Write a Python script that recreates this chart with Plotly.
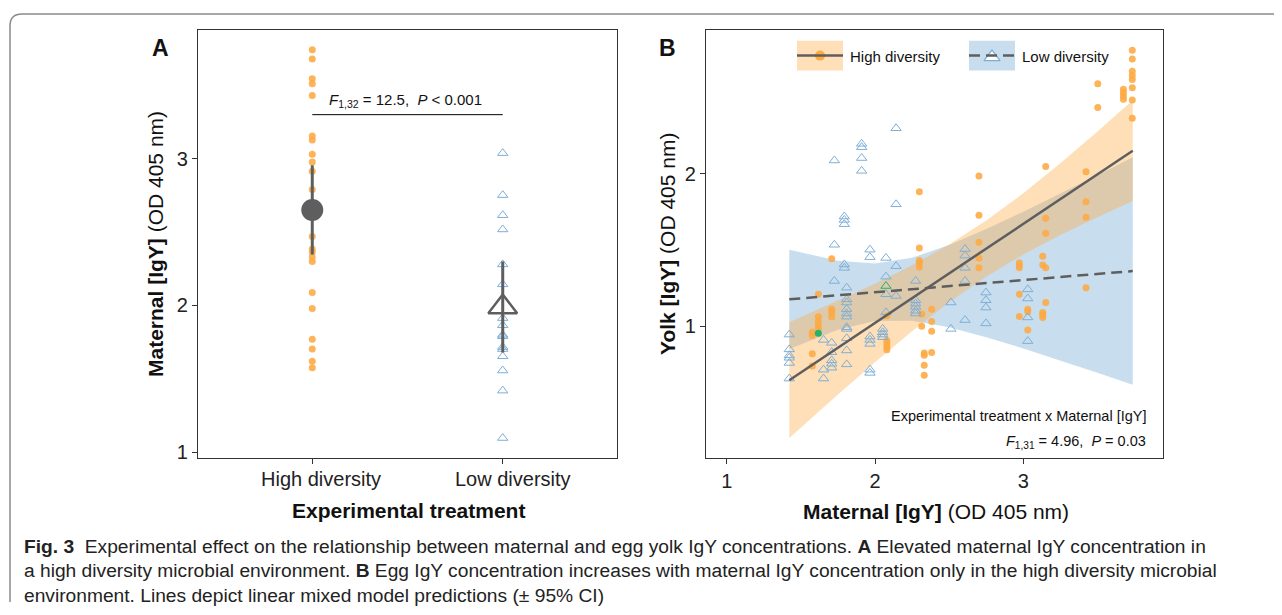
import plotly.graph_objects as go

W, H = 1282, 615
OFF = 8  # the page body adds an 8px margin on every side; the figure fills the rest


def px(x):
    return (x - OFF) / (W - 2 * OFF)


def py(y):
    return 1 - (y - OFF) / (H - 2 * OFF)


# ---------------- Panel A data ----------------
groups = ["High diversity", "Low diversity"]
group_pos = [1, 2]
hd_maternal = [3.743, 3.68, 3.545, 3.51, 3.43, 3.155, 3.128, 3.03, 2.978, 2.915, 2.79,
               2.47, 2.385, 2.365, 2.33, 2.30, 2.088, 1.98, 1.77, 1.703, 1.62, 1.576]
ld_maternal = [3.038, 2.752, 2.615, 2.518, 2.28, 2.144, 1.914, 1.865, 1.80, 1.79,
               1.717, 1.703, 1.654, 1.557, 1.42, 1.097]
mean_maternal = [2.65, 1.99]
ci_low_maternal = [2.347, 1.68]
ci_high_maternal = [2.955, 2.30]
a_yticks = [1, 2, 3]
bracket_y = 3.30

# ---------------- Panel B data ----------------
hd_col_x = [1.577, 1.618, 1.708, 2.08, 2.299, 2.315, 2.332, 2.382, 2.701, 2.973,
            3.03, 3.131, 3.151, 3.423, 3.502, 3.675, 3.735]
hd_col_yolk = [
    [0.961, 0.94, 0.82, 0.74],
    [1.21, 1.063, 1.032, 1.004, 0.982],
    [1.442, 1.112, 1.091, 1.063],
    [1.07, 0.907, 0.885, 0.864, 0.846],
    [1.881, 1.513, 1.431, 1.416, 1.388],
    [1.08, 1.0],
    [0.825, 0.81, 0.745, 0.68],
    [1.112, 1.032, 0.968, 0.829],
    [1.985, 1.727, 1.55, 1.448, 1.383],
    [1.416, 1.398, 1.383, 1.21, 1.065],
    [1.112, 1.095, 0.976],
    [1.459, 1.401, 1.091, 1.076, 1.058],
    [2.047, 1.708, 1.61, 1.383, 1.156],
    [2.013, 1.816, 1.714, 1.253],
    [2.589, 2.433],
    [2.552, 2.53, 2.508, 2.487],
    [2.807, 2.751, 2.671, 2.643, 2.617, 2.563, 2.482, 2.362],
]
ld_col_x = [1.422, 1.653, 1.708, 1.726, 1.793, 1.809, 1.91, 1.966, 2.052, 2.074,
            2.142, 2.274, 2.512, 2.607, 2.748, 3.03]
ld_col_yolk = [
    [0.946, 0.849, 0.81, 0.794, 0.76, 0.658],
    [0.911, 0.716, 0.658],
    [0.892, 0.831, 0.777, 0.755, 0.729],
    [2.086, 1.534, 1.297],
    [1.719, 1.697, 1.669, 1.405, 1.383],
    [1.253, 1.177, 1.156, 1.112, 1.084, 1.063, 0.994, 0.983, 0.922, 0.842, 0.751],
    [2.195, 2.173, 2.102, 2.018],
    [1.502, 1.453, 0.933, 0.911, 0.885, 0.716, 0.695],
    [0.983, 0.961, 0.946, 0.929],
    [1.448, 1.325, 1.21, 1.091],
    [2.297, 1.799, 1.394, 1.199],
    [1.297, 1.171, 1.149, 1.128, 1.102, 1.084],
    [1.156, 0.983],
    [1.506, 1.463, 1.383, 1.297, 1.041],
    [1.221, 1.171, 1.123, 1.019],
    [1.242, 1.182, 1.058, 0.903],
]
# highlighted (green) individuals
hl_hd_x, hl_hd_yolk = [1.618], [0.955]
hl_ld_x, hl_ld_yolk = [2.074], [1.264]

# model predictions
pred_x = [1.422, 1.75, 2.0, 2.25, 2.5, 2.75, 3.0, 3.25, 3.5, 3.738]
hd_pred = [0.647, 0.860, 1.022, 1.184, 1.346, 1.509, 1.671, 1.833, 1.995, 2.150]
hd_upper = [1.026, 1.167, 1.279, 1.400, 1.535, 1.693, 1.871, 2.068, 2.275, 2.480]
hd_lower = [0.268, 0.553, 0.765, 0.968, 1.157, 1.325, 1.471, 1.598, 1.715, 1.820]
ld_pred = [1.177, 1.203, 1.223, 1.243, 1.263, 1.283, 1.303, 1.323, 1.343, 1.362]
ld_upper = [1.502, 1.429, 1.411, 1.449, 1.532, 1.637, 1.751, 1.869, 1.990, 2.107]
ld_lower = [0.852, 0.977, 1.035, 1.037, 0.994, 0.929, 0.855, 0.777, 0.696, 0.617]
b_xticks = [1, 2, 3]
b_yticks = [1, 2]

# ---------------- styles ----------------
ORANGE = "rgba(253,170,66,0.88)"
ORANGE_SOLID = "#FDAA42"
BLUE = "#7EAFD8"
GREEN = "#22B36E"
GRAY = "#5E5E5E"
ORANGE_FILL = "rgba(253,174,75,0.40)"
BLUE_FILL = "rgba(125,175,215,0.42)"
FONT = "Liberation Sans, Arial, Helvetica, sans-serif"

fig = go.Figure()

# ---- Panel A traces ----
fig.add_trace(go.Scatter(x=[group_pos[0]] * len(hd_maternal), y=hd_maternal, mode="markers",
                         marker=dict(color=ORANGE, size=7, symbol="circle", line=dict(width=0)),
                         xaxis="x", yaxis="y", showlegend=False, hoverinfo="skip"))
fig.add_trace(go.Scatter(x=[group_pos[1]] * len(ld_maternal), y=ld_maternal, mode="markers",
                         marker=dict(color=BLUE, size=9, symbol="triangle-up-open", line=dict(width=1)),
                         xaxis="x", yaxis="y", showlegend=False, hoverinfo="skip"))
err_plus = [h - m for h, m in zip(ci_high_maternal, mean_maternal)]
err_minus = [m - l for m, l in zip(mean_maternal, ci_low_maternal)]
fig.add_trace(go.Scatter(x=[group_pos[0]], y=[mean_maternal[0]], mode="markers",
                         marker=dict(color=GRAY, size=22, symbol="circle"),
                         error_y=dict(type="data", symmetric=False, array=[err_plus[0]],
                                      arrayminus=[err_minus[0]], color=GRAY, thickness=3, width=0),
                         xaxis="x", yaxis="y", showlegend=False, hoverinfo="skip"))
fig.add_trace(go.Scatter(x=[group_pos[1]], y=[mean_maternal[1]], mode="markers",
                         marker=dict(color=GRAY, size=25, symbol="triangle-up-open",
                                     line=dict(width=2.5, color=GRAY)),
                         error_y=dict(type="data", symmetric=False, array=[err_plus[1]],
                                      arrayminus=[err_minus[1]], color=GRAY, thickness=3, width=0),
                         xaxis="x", yaxis="y", showlegend=False, hoverinfo="skip"))

# ---- Panel B traces ----
fig.add_trace(go.Scatter(x=pred_x + pred_x[::-1], y=ld_upper + ld_lower[::-1], fill="toself",
                         fillcolor=BLUE_FILL, line=dict(width=0), mode="lines",
                         xaxis="x2", yaxis="y2", showlegend=False, hoverinfo="skip"))
fig.add_trace(go.Scatter(x=pred_x + pred_x[::-1], y=hd_upper + hd_lower[::-1], fill="toself",
                         fillcolor=ORANGE_FILL, line=dict(width=0), mode="lines",
                         xaxis="x2", yaxis="y2", showlegend=False, hoverinfo="skip"))

hd_x, hd_y = [], []
for xv, ys in zip(hd_col_x, hd_col_yolk):
    hd_x += [xv] * len(ys)
    hd_y += ys
ld_x, ld_y = [], []
for xv, ys in zip(ld_col_x, ld_col_yolk):
    ld_x += [xv] * len(ys)
    ld_y += ys

fig.add_trace(go.Scatter(x=hd_x, y=hd_y, mode="markers",
                         marker=dict(color=ORANGE, size=7, symbol="circle", line=dict(width=0)),
                         xaxis="x2", yaxis="y2", showlegend=False, hoverinfo="skip"))
fig.add_trace(go.Scatter(x=ld_x, y=ld_y, mode="markers",
                         marker=dict(color=BLUE, size=9, symbol="triangle-up-open", line=dict(width=1)),
                         xaxis="x2", yaxis="y2", showlegend=False, hoverinfo="skip"))
fig.add_trace(go.Scatter(x=hl_hd_x, y=hl_hd_yolk, mode="markers",
                         marker=dict(color=GREEN, size=7, symbol="circle"),
                         xaxis="x2", yaxis="y2", showlegend=False, hoverinfo="skip"))
fig.add_trace(go.Scatter(x=hl_ld_x, y=hl_ld_yolk, mode="markers",
                         marker=dict(color=GREEN, size=9, symbol="triangle-up-open", line=dict(width=1)),
                         xaxis="x2", yaxis="y2", showlegend=False, hoverinfo="skip"))
fig.add_trace(go.Scatter(x=pred_x, y=ld_pred, mode="lines",
                         line=dict(color=GRAY, width=2.5, dash="11px,6px"),
                         xaxis="x2", yaxis="y2", showlegend=False, hoverinfo="skip"))
fig.add_trace(go.Scatter(x=pred_x, y=hd_pred, mode="lines",
                         line=dict(color=GRAY, width=2.5),
                         xaxis="x2", yaxis="y2", showlegend=False, hoverinfo="skip"))

# ---- legend glyph markers (overlay axis in page pixels) ----
fig.add_trace(go.Scatter(x=[820], y=[56], mode="markers",
                         marker=dict(color=ORANGE_SOLID, size=10, symbol="circle"),
                         xaxis="x3", yaxis="y3", showlegend=False, hoverinfo="skip"))
fig.add_trace(go.Scatter(x=[992], y=[57.5], mode="markers",
                         marker=dict(color="white", size=14, symbol="triangle-up",
                                     line=dict(width=1.3, color=BLUE)),
                         xaxis="x3", yaxis="y3", showlegend=False, hoverinfo="skip"))

axis_common = dict(showgrid=False, zeroline=False, showline=True, linecolor="#333333",
                   linewidth=1.3, mirror=True, ticks="outside", ticklen=5, tickwidth=1.3,
                   tickcolor="#333333", tickfont=dict(family=FONT, size=20, color="#222222"))

fig.update_layout(
    width=W - 2 * OFF, height=H - 2 * OFF, margin=dict(l=0, r=0, t=0, b=0),
    paper_bgcolor="white", plot_bgcolor="rgba(0,0,0,0)",
    showlegend=False,
    xaxis=dict(domain=[px(198), px(617)], range=[0.4, 2.6], tickvals=group_pos,
               showticklabels=False, anchor="y", **axis_common),
    yaxis=dict(domain=[py(461.7), py(30)], range=[0.9615, 3.878], tickvals=a_yticks,
               anchor="x", **axis_common),
    xaxis2=dict(domain=[px(706), px(1163)], range=[0.8604, 3.942], tickvals=b_xticks,
                anchor="y2", **axis_common),
    yaxis2=dict(domain=[py(461.7), py(30)], range=[0.1383, 2.9416], tickvals=b_yticks,
                anchor="x2", **axis_common),
    xaxis3=dict(domain=[0, 1], range=[OFF, W - OFF], visible=False, anchor="y3", fixedrange=True),
    yaxis3=dict(domain=[0, 1], range=[H - OFF, OFF], visible=False, anchor="x3", fixedrange=True),
)

shapes = []
# outer rounded border
shapes.append(dict(type="path", xref="x3", yref="y3",
                   path="M 1300 14 H 22 Q 10 14 10 26 V 640",
                   line=dict(color="#8A8A8A", width=1.5)))
# significance bracket in panel A
shapes.append(dict(type="line", xref="x", yref="y", x0=group_pos[0], x1=group_pos[1],
                   y0=bracket_y, y1=bracket_y, line=dict(color="black", width=1)))
# legend keys
shapes.append(dict(type="rect", xref="x3", yref="y3", x0=797, x1=843, y0=41, y1=71,
                   fillcolor=ORANGE_FILL, line=dict(width=0), layer="below"))
shapes.append(dict(type="line", xref="x3", yref="y3", x0=797, x1=843, y0=56, y1=56,
                   line=dict(color=GRAY, width=2.5)))
shapes.append(dict(type="rect", xref="x3", yref="y3", x0=969, x1=1015, y0=41, y1=71,
                   fillcolor=BLUE_FILL, line=dict(width=0), layer="below"))
shapes.append(dict(type="line", xref="x3", yref="y3", x0=969, x1=1015, y0=56, y1=56,
                   line=dict(color=GRAY, width=2.5, dash="11px,6px")))
fig.update_layout(shapes=shapes)

ann = []


def add_text(text, x, y, size, family=FONT, xanchor="center", yanchor="middle", angle=0,
             color="#111111"):
    ann.append(dict(text=text, x=px(x), y=py(y), xref="paper", yref="paper", showarrow=False,
                    xanchor=xanchor, yanchor=yanchor, textangle=angle,
                    font=dict(family=family, size=size, color=color)))


# category tick labels of panel A (drawn slightly right of the tick, as in the figure)
add_text(groups[0], 321, 483, 20, color="#222222")
add_text(groups[1], 513, 483, 20, color="#222222")

add_text("<b>A</b>", 160, 48, 23)
add_text("<b>B</b>", 667, 48, 23)
add_text("<b>Maternal [IgY]</b> (OD 405 nm)", 155, 246, 21, angle=-90)
add_text("<b>Experimental treatment</b>", 408, 515, 21)
add_text("<b>Yolk [IgY]</b> (OD 405 nm)", 667, 246, 21, angle=-90)
add_text("<b>Maternal [IgY]</b> (OD 405 nm)", 936, 516, 21)
add_text("<i>F</i><sub>1,32</sub> = 12.5,  <i>P</i> &lt; 0.001", 405, 101, 15)
add_text("Experimental treatment x Maternal [IgY]", 1148, 419, 14.5, xanchor="right")
add_text("<i>F</i><sub>1,31</sub> = 4.96,  <i>P</i> = 0.03", 1148, 446, 14.5, xanchor="right")
add_text("High diversity", 848, 57, 15, xanchor="left")
add_text("Low diversity", 1020, 57, 15, xanchor="left")

cap_lines = [
    "<b>Fig. 3</b>  Experimental effect on the relationship between maternal and egg yolk IgY "
    "concentrations. <b>A</b> Elevated maternal IgY concentration in",
    "a high diversity microbial environment. <b>B</b> Egg IgY concentration increases with "
    "maternal IgY concentration only in the high diversity microbial",
    "environment. Lines depict linear mixed model predictions (\u00b1 95% CI)",
]
for i, line in enumerate(cap_lines):
    add_text(line, 22, 551 + 24.5 * i, 19.2, xanchor="left", color="#222222")

fig.update_layout(annotations=ann)

fig.write_html("out.html")
